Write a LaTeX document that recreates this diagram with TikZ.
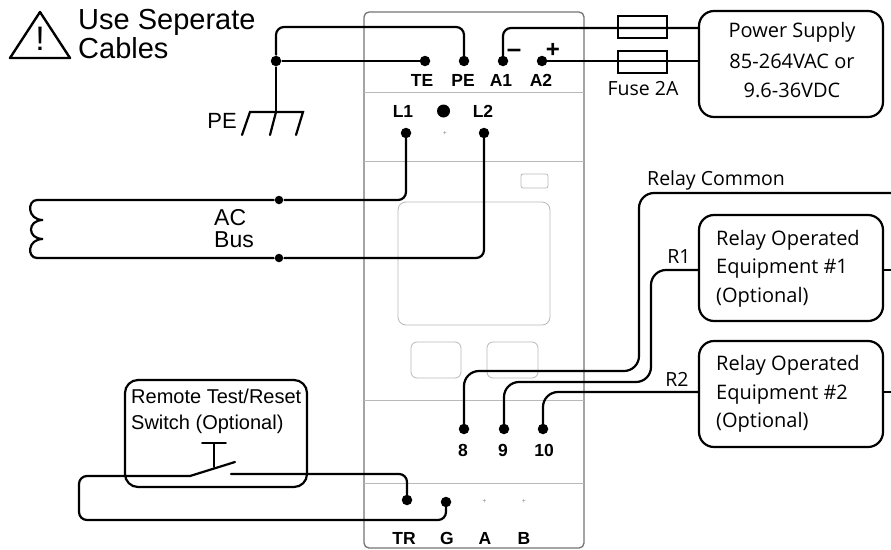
\documentclass[tikz,border=0pt]{standalone}
\usepackage{fontspec}
\setmainfont{Liberation Sans}
\newfontfamily\boxfont{Open Sans}
\tikzset{
	wire/.style={line width=2.2pt,black,line cap=round},
	casing/.style={line width=1.3pt,black!55,rounded corners=5},
	panel/.style={line width=.8pt,black!28,rounded corners=6},
	divider/.style={line width=.8pt,black!28},
	term/.style={circle,fill=black,inner sep=0pt,minimum size=10.5pt},
	joint/.style={circle,fill=black,inner sep=0pt,minimum size=8.5pt},
	pin/.style={font=\bfseries\fontsize{17.5}{18}\selectfont,inner sep=0pt},
	note/.style={font=\fontsize{20}{26}\selectfont,inner sep=0pt,align=left},
	boxtext/.style={font=\boxfont\fontsize{20}{28.6}\selectfont,inner sep=0pt},
	smalltext/.style={font=\boxfont\fontsize{19.5}{20}\selectfont,inner sep=0pt},
	unit/.style={draw,line width=2.2pt,rounded corners=15,inner sep=0pt},
}
\begin{document}
\begin{tikzpicture}[x=1pt,y=-1pt]
	\useasboundingbox (0,0) rectangle (891,549);

	% din rail case
	\draw[casing] (364,12) rectangle (584,548);
	\draw[divider] (364,92) -- (584,92);
	\draw[divider] (364,161) -- (584,161);
	\draw[divider] (364,400) -- (584,400);
	\draw[divider] (364,483) -- (584,483);
	\draw[panel,rounded corners=8] (398,202) rectangle (550,325);
	\draw[panel] (411,342) rectangle (461,378);
	\draw[panel] (487,342) rectangle (538,378);
	\draw[panel,rounded corners=2] (521,174) rectangle (548,188);
	\node[text=black!45,font=\fontsize{7}{7}\selectfont,inner sep=0pt] (mark1) at (445,133) {+};
	\node[text=black!45,font=\fontsize{7}{7}\selectfont,inner sep=0pt] (mark2) at (484.5,501) {+};
	\node[text=black!45,font=\fontsize{7}{7}\selectfont,inner sep=0pt] (mark3) at (524,501) {+};

	% terminals
	\node[term] (te) at (425,61) {};
	\node[term] (pe) at (464,61) {};
	\node[term] (a1) at (503,61) {};
	\node[term] (a2) at (542,61) {};
	\node[term] (l1) at (406,133) {};
	\node[term] (l2) at (484,133) {};
	\node[term,minimum size=13pt] (led) at (443.5,111) {};
	\node[term] (r8) at (464,429) {};
	\node[term] (r9) at (504,429) {};
	\node[term] (r10) at (543,429) {};
	\node[term] (tr) at (407,500) {};
	\node[term] (g) at (446,502) {};

	\node[pin] (telabel) at (422,80) {TE};
	\node[pin] (pelabel) at (463,80) {PE};
	\node[pin] (a1label) at (501,80) {A1};
	\node[pin] (a2label) at (541,80) {A2};
	\node[pin] (l1label) at (403,111) {L1};
	\node[pin] (l2label) at (483,111) {L2};
	\node[pin] (r8label) at (463,450) {8};
	\node[pin] (r9label) at (503,450) {9};
	\node[pin] (r10label) at (544,450) {10};
	\node[pin] (trlabel) at (404,538) {TR};
	\node[pin] (glabel) at (447,538) {G};
	\node[pin] (alabel) at (485,538) {A};
	\node[pin] (blabel) at (524,538) {B};
	\node[pin,font=\bfseries\fontsize{26}{26}\selectfont] (minus) at (514,53) {–};
	\node[pin,font=\bfseries\fontsize{24}{24}\selectfont] (plus) at (553,50) {+};

	% boxes
	\node[unit,minimum width=184pt,minimum height=106pt] (supply) at (791,64) {};
	\node[unit,minimum width=184pt,minimum height=106pt] (relay1) at (791,268) {};
	\node[unit,minimum width=184pt,minimum height=106pt] (relay2) at (791,394) {};
	\node[unit,rounded corners=13,minimum width=182pt,minimum height=107pt] (switch) at (216,433.5) {};
	\node[draw,line width=1.8pt,inner sep=0pt,minimum width=49pt,minimum height=22pt] (fuse1) at (642.5,27) {};
	\node[draw,line width=1.8pt,inner sep=0pt,minimum width=49pt,minimum height=22pt] (fuse2) at (642.5,62) {};

	\node[boxtext] (supply1) at (792,32) {Power Supply};
	\node[boxtext] (supply2) at (792,61) {85-264VAC or};
	\node[boxtext] (supply3) at (792,90) {9.6-36VDC};
	\node[boxtext,anchor=west,align=left] (relay1text) at (716,268.5) {Relay Operated\\Equipment \#1\\(Optional)};
	\node[boxtext,anchor=west,align=left] (relay2text) at (716,394) {Relay Operated\\Equipment \#2\\(Optional)};
	\node[smalltext] (fuselabel) at (643,89) {Fuse 2A};
	\node[smalltext,anchor=west] (commonlabel) at (647,180) {Relay Common};
	\node[smalltext] (r1label) at (679,257) {R1};
	\node[smalltext] (r2label) at (677,379) {R2};

	\node[note,font=\fontsize{29}{29}\selectfont,anchor=north west] (warntext) at (78,9) {Use Seperate\\Cables};
	\node[note,anchor=west] (switchtext) at (131,411) {Remote Test/Reset\\Switch (Optional)};
	\node[note,font=\fontsize{23}{22}\selectfont,anchor=west] (acbus) at (214,229) {AC\\Bus};
	\node[note,font=\fontsize{22}{22}\selectfont] (gndlabel) at (222,121) {PE};

	% warning sign
	\draw[line width=2.4pt,line join=round] (40,12) -- (10,58) -- (70,58) -- cycle;
	\node[font=\fontsize{34}{34}\selectfont,inner sep=0pt] (bang) at (40,39) {!};

	\begin{scope}[wire,rounded corners=8]
	% earth
	\node[term] (pejoin) at (276,61) {};
	\coordinate (gnd) at (276,112);
	\coordinate (petop) at (276,27);
	\draw (te) -- (pejoin);
	\draw (pejoin) -- (gnd);
	\draw (pejoin) -- (petop) -- (pe |- petop) -- (pe);
	\draw[rounded corners=0] (242,135) -- (250,112) -- (303,112) -- (296,135);
	\draw (gnd) -- (270,135);

	% supply
	\coordinate (a1top) at (503,28);
	\draw (a1) -- (a1top) -- (supply.west |- a1top);
	\draw (a2) -- (supply.west |- a2);

	% ac bus
	\coordinate (bus1) at (37,200);
	\coordinate (bus2) at (37,258);
	\node[joint] (join1) at (279,200) {};
	\node[joint] (join2) at (279,258) {};
	\draw (l1) |- (join1) -- (bus1);
	\draw (l2) |- (join2) -- (bus2);
	\draw[rounded corners=0] (bus1) .. controls (27,200) and (27,220) .. (43,220)
		.. controls (27,220) and (27,239) .. (43,239)
		.. controls (27,239) and (27,258) .. (bus2);

	% test switch
	\coordinate (swa) at (190,476);
	\coordinate (swb) at (235,462);
	\coordinate (swc) at (231,474);
	\coordinate (sw0) at (79,476);
	\coordinate (sw1) at (79,520);
	\draw (g) -- (446,520) -- (sw1) -- (sw0) -- (swa);
	\draw[rounded corners=0] (swa) -- (swb);
	\draw (swc) -- (tr |- swc) -- (tr);
	\draw[rounded corners=0,line width=1.8pt] (202,443) -- (226,443);
	\draw[rounded corners=0,line width=1.8pt] (214,443) -- (214,467);
	\end{scope}

	% relay wires
	\begin{scope}[wire,rounded corners=15]
	\coordinate (com1) at (639,371);
	\coordinate (com2) at (639,193);
	\coordinate (com3) at (891,193);
	\coordinate (res1) at (651,382);
	\coordinate (res2) at (651,270);
	\draw (r8) |- (com1) -- (com2) -- (com3);
	\draw (r9) |- (res1) -- (res2) -- (relay1.west |- res2);
	\draw (r10) |- (relay2.west |- 0,392);
	\draw[rounded corners=0] (relay1.east |- res2) -- (891,270);
	\draw[rounded corners=0] (relay2.east |- 0,392) -- (891,392);
	\end{scope}
\end{tikzpicture}
\end{document}
